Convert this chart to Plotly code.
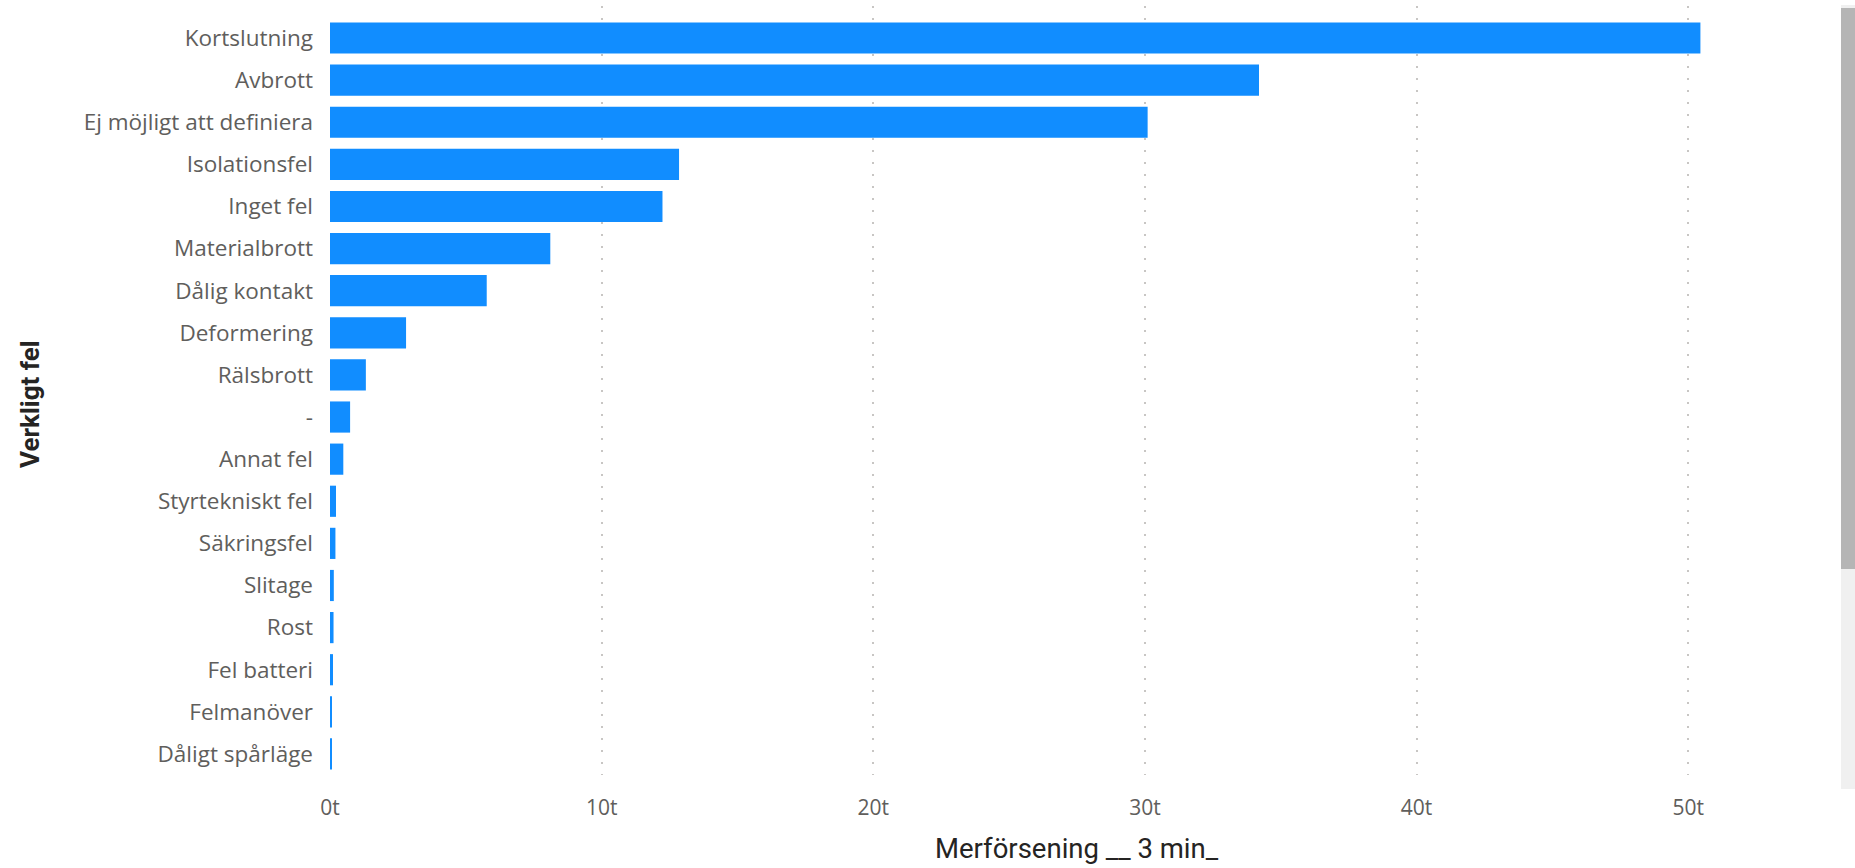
import plotly.graph_objects as go

categories = [
    "Kortslutning", "Avbrott", "Ej möjligt att definiera", "Isolationsfel",
    "Inget fel", "Materialbrott", "Dålig kontakt", "Deformering", "Rälsbrott",
    "-", "Annat fel", "Styrtekniskt fel", "Säkringsfel", "Slitage", "Rost",
    "Fel batteri", "Felmanöver", "Dåligt spårläge",
]
# Merförsening (3 min), in thousands
values = [50.45, 34.2, 30.1, 12.85, 12.24, 8.11, 5.77, 2.80, 1.32,
          0.74, 0.49, 0.22, 0.20, 0.14, 0.13, 0.11, 0.07, 0.06]
tick_vals = [0, 10, 20, 30, 40, 50]
tick_text = ["0t", "10t", "20t", "30t", "40t", "50t"]

W, H = 1855, 868
L, R, T, B = 330, 31, 6, 93
pw = W - L - R
ph = H - T - B

fig = go.Figure(go.Bar(
    x=values, y=categories, orientation="h",
    marker=dict(color="#118DFF", line=dict(width=0)),
    width=0.74,
    hoverinfo="x+y",
))

fig.update_layout(
    width=W, height=H,
    margin=dict(l=L, r=R, t=T, b=B, pad=0),
    paper_bgcolor="white", plot_bgcolor="white",
    showlegend=False,
    font=dict(family="Open Sans, Segoe UI, sans-serif", color="#605E5C"),
    xaxis=dict(
        range=[0, 55], tickvals=tick_vals, ticktext=tick_text,
        showgrid=True, gridcolor="#C8C6C4", griddash="2px,10px", gridwidth=1.5,
        zeroline=False, showline=False, ticks="",
        tickfont=dict(size=21, color="#605E5C"),
        ticklabelstandoff=18,
        fixedrange=True,
    ),
    yaxis=dict(
        type="category", categoryorder="array", categoryarray=categories,
        range=[17.5, -0.76],
        showgrid=False, zeroline=False, showline=False, ticks="",
        tickfont=dict(size=22.5, color="#605E5C"),
        ticklabelstandoff=16,
        fixedrange=True,
    ),
    annotations=[
        dict(text="Merförsening __ 3 min_", xref="paper", yref="paper",
             x=(1077 - L) / pw, y=-(849 - (T + ph)) / ph,
             xanchor="center", yanchor="middle", showarrow=False,
             font=dict(family="Roboto, sans-serif", size=27.5, color="#252423")),
        dict(text="<b>Verkligt fel</b>", xref="paper", yref="paper",
             x=-(L - 30) / pw, y=1 - (404 - T) / ph, textangle=-90,
             xanchor="center", yanchor="middle", showarrow=False,
             font=dict(family="Roboto, sans-serif", size=26, color="#252423")),
    ],
    shapes=[
        dict(type="rect", xref="paper", yref="paper", layer="above",
             x0=(1841 - L) / pw, x1=(1855 - L) / pw,
             y0=1 - (789 - T) / ph, y1=1 - (5 - T) / ph,
             fillcolor="#F0F0F0", line=dict(width=0)),
        dict(type="rect", xref="paper", yref="paper", layer="above",
             x0=(1841 - L) / pw, x1=(1855 - L) / pw,
             y0=1 - (569 - T) / ph, y1=1 - (8 - T) / ph,
             fillcolor="#B5B5B5", line=dict(width=0)),
    ],
)

fig.write_html("out.html", config={"displayModeBar": False})
